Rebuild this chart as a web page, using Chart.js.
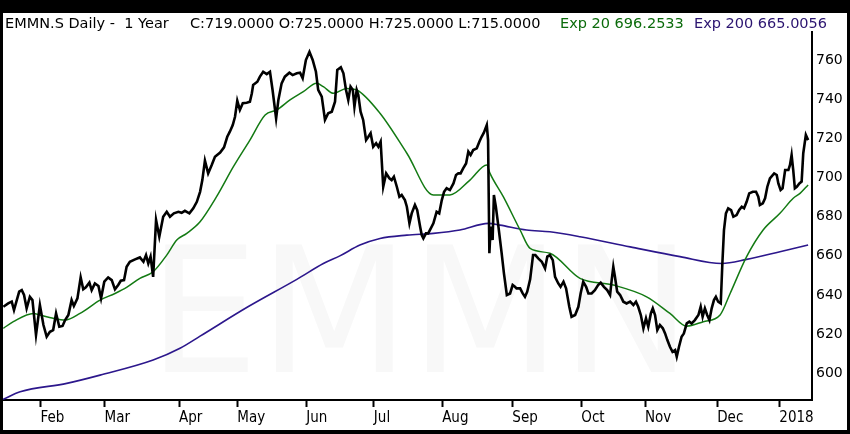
<!DOCTYPE html>
<html>
<head>
<meta charset="utf-8">
<script src="https://cdn.jsdelivr.net/npm/chart.js@4.4.1/dist/chart.umd.min.js"></script>
<style>
  html, body { margin: 0; padding: 0; background: #000; }
  #wrap { width: 850px; height: 434px; position: relative; }
</style>
</head>
<body>
<div id="wrap"><canvas id="priceChart"></canvas></div>
<script>
// trading-day index / close price
var closeDays = [0.1, 1.6, 2.7, 3.4, 5.0, 5.8, 6.5, 7.3, 8.3, 9.1, 10.2, 11.4, 12.5, 13.5, 14.5, 15.5, 16.4, 17.4, 18.4, 19.2,
    20.2, 21.2, 21.9, 23.0, 24.0, 24.8, 25.6, 26.7, 27.4, 28.4, 29.5, 30.3, 31.3, 32.5, 33.6, 34.6, 35.6, 36.4, 37.4, 38.2,
    39.2, 40.8, 42.3, 43.4, 44.2, 44.9, 45.6, 46.4, 47.3, 48.3, 49.5, 50.6, 51.6, 52.8, 54.2, 55.2, 56.2, 57.6, 58.8, 59.9,
    60.9, 61.6, 62.4, 63.4, 64.5, 65.5, 67.1, 68.3, 69.3, 70.1, 71.0, 71.7, 72.4, 73.2, 74.1, 75.3, 76.3, 76.9, 77.3, 78.6,
    79.4, 80.4, 81.5, 82.5, 83.3, 84.4, 85.1, 86.1, 87.1, 88.5, 89.5, 90.8, 91.8, 92.6, 93.6, 94.7, 95.7, 96.7, 97.4, 98.5,
    99.5, 100.5, 101.6, 102.6, 103.3, 104.4, 105.2, 106.0, 106.7, 107.4, 108.1, 108.6, 109.3, 109.8, 110.5, 111.3, 112.2, 112.9, 113.6, 114.4,
    115.3, 116.0, 116.7, 117.5, 118.4, 119.4, 120.1, 120.8, 121.7, 122.5, 123.2, 124.2, 124.8, 125.6, 126.3, 127.3, 128.0, 128.9, 129.4, 129.9,
    130.7, 131.4, 132.2, 133.0, 134.0, 134.8, 135.6, 136.3, 137.1, 138.1, 139.2, 140.0, 140.7, 141.4, 142.2, 143.1, 143.8, 144.5, 145.3, 146.4,
    147.2, 147.9, 148.6, 149.5, 149.9, 150.3, 150.7, 151.3, 151.7, 152.3, 153.1, 154.1, 154.8, 155.7, 156.7, 157.5, 158.2, 158.7, 159.8, 160.6,
    161.3, 162.0, 162.9, 163.8, 164.5, 165.4, 166.5, 167.5, 168.2, 169.0, 169.9, 170.6, 171.6, 172.3, 173.2, 174.0, 175.0, 175.7, 176.8, 177.8,
    178.5, 179.3, 180.2, 180.9, 181.9, 182.9, 183.9, 184.7, 185.7, 186.7, 187.6, 188.1, 188.6, 189.1, 189.8, 190.7, 191.7, 192.7, 193.8, 194.8,
    195.6, 196.3, 197.1, 197.9, 198.7, 199.4, 200.2, 200.8, 201.5, 202.2, 203.0, 203.9, 204.6, 205.3, 206.1, 206.9, 207.7, 208.2, 208.9, 209.7,
    210.4, 211.3, 212.1, 212.8, 213.8, 214.9, 215.6, 216.2, 216.9, 217.6, 218.3, 219.0, 219.7, 220.3, 221.0, 221.8, 222.3, 222.8, 223.4, 224.1,
    225.0, 225.7, 226.7, 227.5, 228.3, 229.0, 229.8, 230.6, 231.7, 232.7, 233.4, 233.9, 234.8, 235.5, 236.2, 237.0, 238.3, 239.1, 239.6, 240.3,
    240.9, 241.7, 242.7, 243.2, 243.7, 244.2, 244.7, 245.3, 246.1, 246.8, 247.3, 248.1, 248.8];
var closeValues = [634.0, 635.7, 636.6, 632.3, 641.7, 642.5, 640.0, 633.2, 639.1, 637.4, 619.6, 634.9, 624.7, 618.7, 621.2, 622.1, 630.6, 623.8, 624.2, 627.2,
    629.8, 637.4, 634.4, 638.3, 649.0, 642.9, 643.9, 646.3, 642.5, 645.9, 644.6, 638.3, 646.8, 649.0, 647.6, 642.9, 645.1, 647.3, 647.6, 654.4,
    657.0, 658.2, 659.2, 657.0, 660.4, 656.1, 659.6, 649.3, 678.3, 669.8, 680.0, 682.5, 680.0, 681.7, 682.5, 682.0, 683.0, 681.7, 684.3, 687.6,
    692.7, 698.7, 708.6, 702.1, 706.4, 710.6, 712.7, 715.4, 720.8, 723.4, 726.8, 731.0, 739.2, 734.5, 737.9, 738.2, 738.7, 743.0, 747.2, 748.9,
    751.5, 754.0, 752.8, 754.0, 744.7, 730.2, 739.6, 748.1, 751.5, 753.5, 752.3, 753.2, 753.5, 750.7, 760.0, 764.2, 760.0, 754.0, 744.7, 741.3,
    729.4, 732.8, 733.6, 738.7, 754.9, 756.3, 753.2, 744.7, 739.6, 746.4, 744.7, 736.1, 744.7, 742.1, 733.6, 729.4, 719.1, 720.8, 722.6, 715.7,
    717.5, 715.7, 718.3, 695.3, 702.1, 699.6, 698.7, 700.4, 695.3, 690.2, 691.1, 688.5, 685.1, 676.6, 681.7, 686.0, 683.4, 674.9, 670.6, 668.9,
    671.5, 671.5, 674.0, 676.6, 682.5, 681.7, 688.5, 692.7, 694.5, 693.6, 697.0, 701.3, 702.1, 702.1, 704.7, 707.2, 713.2, 711.5, 714.0, 714.9,
    718.3, 720.8, 722.9, 726.8, 719.1, 661.3, 674.9, 668.1, 691.1, 685.1, 674.9, 661.3, 651.1, 640.0, 640.8, 645.1, 644.2, 643.4, 643.4, 640.8,
    639.1, 641.7, 648.0, 660.4, 660.4, 658.7, 657.0, 653.6, 659.6, 660.4, 657.8, 649.3, 645.9, 644.2, 646.8, 643.4, 634.0, 628.9, 629.8, 634.0,
    640.8, 646.8, 644.2, 640.8, 640.8, 642.5, 645.1, 646.3, 644.2, 642.5, 640.0, 647.6, 654.4, 649.3, 641.7, 640.0, 636.6, 635.7, 636.6, 634.9,
    636.6, 634.0, 629.8, 623.0, 628.1, 623.8, 630.6, 633.2, 629.8, 622.1, 624.7, 623.0, 620.4, 617.0, 613.6, 611.0, 611.9, 608.5, 613.6, 618.7,
    620.4, 625.5, 626.4, 625.5, 627.2, 629.8, 634.0, 628.9, 633.2, 629.8, 627.2, 633.2, 637.4, 639.1, 636.6, 635.7, 656.1, 673.2, 681.7, 684.3,
    683.4, 680.0, 680.8, 683.4, 685.1, 684.3, 687.6, 691.9, 692.7, 692.7, 690.2, 686.0, 686.8, 689.4, 695.3, 699.6, 702.1, 701.3, 697.0, 693.6,
    694.5, 703.8, 703.8, 706.4, 711.5, 703.8, 694.5, 695.3, 697.0, 697.9, 712.4, 721.7, 719.1];

var ema20Days = [0.1, 3.2, 9.4, 11.4, 15.5, 19.2, 23.8, 30.0, 34.6, 38.2, 42.3, 46.4, 50.6, 53.7, 56.8, 60.9, 66.0, 71.2, 76.3, 81.0,
    84.6, 88.7, 92.8, 96.9, 99.0, 102.1, 106.2, 109.3, 116.5, 124.8, 133.0, 138.1, 144.3, 149.5, 150.5, 154.6, 159.8, 162.9, 169.0, 178.3,
    188.6, 198.9, 206.1, 211.3, 216.4, 221.6, 224.7, 229.8, 234.9, 240.1, 244.2, 246.3, 248.8];
var ema20Values = [623.0, 626.4, 630.6, 629.8, 628.1, 627.2, 630.6, 637.4, 640.8, 643.9, 648.5, 651.9, 660.4, 668.1, 671.5, 677.4, 690.2, 705.5, 719.1, 731.9,
    734.5, 739.6, 743.8, 748.1, 746.4, 743.0, 745.5, 744.7, 732.8, 712.4, 691.1, 691.1, 698.7, 706.4, 702.1, 690.2, 673.2, 663.8, 661.3, 648.5,
    645.1, 639.1, 630.6, 624.1, 626.4, 629.8, 640.8, 659.6, 673.2, 681.7, 689.4, 691.9, 696.2];

var ema200Days = [0, 5.3, 19.7, 30.0, 46.4, 54.7, 60.9, 75.7, 90.8, 99.0, 104.1, 110.3, 116.5, 124.8, 133.0, 141.2, 150.0, 153.6, 161.8, 169.0,
    178.3, 193.8, 209.2, 222.1, 229.8, 240.1, 248.8];
var ema200Values = [586.7, 590.6, 594.9, 599.1, 606.8, 612.8, 619.0, 634.0, 648.0, 656.1, 660.0, 665.5, 668.9, 670.6, 671.5, 673.2, 676.6, 675.7, 673.2, 672.3,
    669.8, 664.6, 659.6, 656.1, 658.2, 662.1, 665.5];

var monthTickDays = [11.6, 31.4, 54.4, 72.4, 93.7, 114.6, 135.7, 157.4, 178.7, 198.4, 220.7, 239.9];
var monthLabels = ['Feb', 'Mar', 'Apr', 'May', 'Jun', 'Jul', 'Aug', 'Sep', 'Oct', 'Nov', 'Dec', '2018'];
var priceTicks = [600, 620, 640, 660, 680, 700, 720, 740, 760];

function pairs(xs, ys) {
    var out = [];
    for (var i = 0; i < xs.length; i++) {
        out.push({ x: xs[i], y: ys[i] });
    }
    return out;
}

// black frame, header line and the faint watermark
var framePlugin = {
    id: 'frame',
    beforeDraw: function (chart) {
        var c = chart.ctx;
        c.save();
        c.fillStyle = '#000';
        c.fillRect(0, 0, chart.width, chart.height);
        c.fillStyle = '#fff';
        c.fillRect(3, 13, chart.width - 6, chart.height - 17);
        c.restore();
    },
    beforeDatasetsDraw: function (chart) {
        var c = chart.ctx;
        c.save();
        c.fillStyle = '#f8f8f8';
        c.font = '175px "DejaVu Sans"';
        c.textAlign = 'center';
        c.textBaseline = 'alphabetic';
        c.fillText('EMMN', 420, 372);
        c.restore();
    },
    afterDraw: function (chart) {
        var c = chart.ctx;
        c.save();
        c.font = '14.5px "DejaVu Sans"';
        c.textBaseline = 'middle';
        c.fillStyle = '#000';
        c.fillText('EMMN.S Daily -  1 Year', 5, 24);
        c.fillText('C:719.0000 O:725.0000 H:725.0000 L:715.0000', 190, 24);
        c.fillStyle = '#0b6b0b';
        c.fillText('Exp 20 696.2533', 560, 24);
        c.fillStyle = '#2b1470';
        c.fillText('Exp 200 665.0056', 694, 24);
        c.restore();
    }
};

const ctx = document.getElementById('priceChart').getContext('2d');

new Chart(ctx, {
    type: 'line',
    data: {
        datasets: [
            {
                label: 'EMMN.S',
                data: pairs(closeDays, closeValues),
                borderColor: '#000',
                borderWidth: 2.6,
                pointRadius: 0,
                tension: 0
            },
            {
                label: 'Exp 20',
                data: pairs(ema20Days, ema20Values),
                borderColor: '#137a13',
                borderWidth: 1.5,
                pointRadius: 0,
                cubicInterpolationMode: 'monotone'
            },
            {
                label: 'Exp 200',
                data: pairs(ema200Days, ema200Values),
                borderColor: '#2c178c',
                borderWidth: 1.6,
                pointRadius: 0,
                cubicInterpolationMode: 'monotone'
            }
        ]
    },
    options: {
        responsive: true,
        maintainAspectRatio: false,
        animation: false,
        layout: { padding: { left: 3, right: 3, top: 32, bottom: 4 } },
        plugins: {
            legend: { display: false },
            tooltip: { enabled: false }
        },
        scales: {
            x: {
                type: 'linear',
                min: 0,
                max: 250,
                afterBuildTicks: function (scale) {
                    scale.ticks = monthTickDays.map(function (v) { return { value: v }; });
                },
                afterFit: function (scale) { scale.height = 30; },
                grid: {
                    display: true,
                    drawOnChartArea: false,
                    drawTicks: true,
                    tickLength: 7,
                    tickWidth: 2,
                    tickColor: '#000'
                },
                border: { display: true, color: '#000', width: 2 },
                ticks: {
                    autoSkip: false,
                    maxRotation: 0,
                    align: 'start',
                    padding: 2,
                    color: '#000',
                    font: { family: '"Liberation Sans Narrow", "DejaVu Sans Condensed", sans-serif', size: 15 },
                    callback: function (value, index) { return monthLabels[index]; }
                }
            },
            y: {
                position: 'right',
                min: 586.4,
                max: 774.3,
                afterBuildTicks: function (scale) {
                    scale.ticks = priceTicks.map(function (v) { return { value: v }; });
                },
                afterFit: function (scale) { scale.width = 35; },
                grid: { display: false, drawTicks: false },
                border: { display: true, color: '#000', width: 2 },
                ticks: {
                    padding: 4,
                    color: '#000',
                    font: { family: '"DejaVu Sans"', size: 14 }
                }
            }
        }
    },
    plugins: [framePlugin]
});
</script>
</body>
</html>
